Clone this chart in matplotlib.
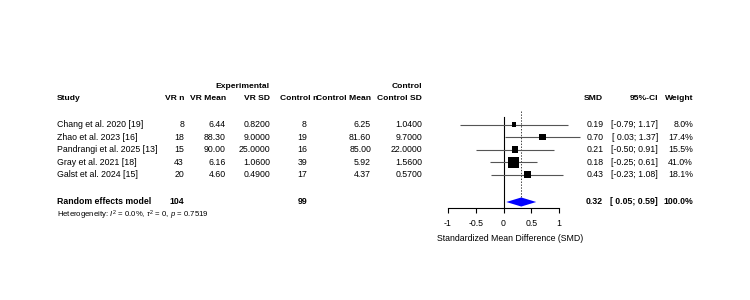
import numpy as np
import matplotlib.pyplot as plt

plt.rcParams['font.family'] = ['Liberation Sans', 'DejaVu Sans']
plt.rcParams['mathtext.fontset'] = 'custom'
plt.rcParams['mathtext.rm'] = 'Liberation Sans'
plt.rcParams['mathtext.it'] = 'Liberation Sans:italic'

studies = ['Chang et al. 2020 [19]', 'Zhao et al. 2023 [16]', 'Pandrangi et al. 2025 [13]',
           'Gray et al. 2021 [18]', 'Galst et al. 2024 [15]']
vr_n = ['8', '18', '15', '43', '20']
vr_mean = ['6.44', '88.30', '90.00', '6.16', '4.60']
vr_sd = ['0.8200', '9.0000', '25.0000', '1.0600', '0.4900']
ctl_n = ['8', '19', '16', '39', '17']
ctl_mean = ['6.25', '81.60', '85.00', '5.92', '4.37']
ctl_sd = ['1.0400', '9.7000', '22.0000', '1.5600', '0.5700']
smd = [0.19, 0.70, 0.21, 0.18, 0.43]
ci_lo = [-0.79, 0.03, -0.50, -0.25, -0.23]
ci_hi = [1.17, 1.37, 0.91, 0.61, 1.08]
weight = [8.0, 17.4, 15.5, 41.0, 18.1]
pooled = 0.32
pooled_lo, pooled_hi = 0.05, 0.59
total_vr, total_ctl = 104, 99
xticks = [-1, -0.5, 0, 0.5, 1]
xtick_labels = ['-1', '-0.5', '0', '0.5', '1']

W, H = 750, 300
fig = plt.figure(figsize=(7.5, 3), dpi=100)

# text layer in pixel coordinates
tx = fig.add_axes([0, 0, 1, 1])
tx.set_xlim(0, W)
tx.set_ylim(H, 0)
tx.axis('off')

fs = 6.3
hfs = 6.1
row_y = [124.5, 137.1, 149.7, 162.3, 174.9]
sum_y = 202
head_y = 99

def t(x, y, s, ha='right', bold=False, size=fs):
    tx.text(x, y, s, ha=ha, va='center', fontsize=size,
            fontweight='bold' if bold else 'normal')

t(270, 86, 'Experimental', bold=True, size=hfs)
t(422, 86, 'Control', bold=True, size=hfs)
t(57, head_y, 'Study', ha='left', bold=True, size=hfs)
for x, s in [(184, 'VR n'), (226, 'VR Mean'), (270, 'VR SD'), (318, 'Control n'),
             (371, 'Control Mean'), (422, 'Control SD'), (603, 'SMD'),
             (658, '95%-CI'), (693, 'Weight')]:
    t(x, head_y, s, bold=True, size=hfs)

for i, y in enumerate(row_y):
    t(57, y, studies[i], ha='left')
    t(184, y, vr_n[i])
    t(226, y, vr_mean[i])
    t(270, y, vr_sd[i])
    t(307, y, ctl_n[i])
    t(371, y, ctl_mean[i])
    t(422, y, ctl_sd[i])
    t(604, y, f'{smd[i]:.2f}')
    t(658, y, f'[{ci_lo[i]:5.2f}; {ci_hi[i]:.2f}]')
    t(693, y, f'{weight[i]:.1f}%')

t(57, sum_y, 'Random effects model', ha='left', bold=True)
t(184, sum_y, str(total_vr), bold=True)
t(307, sum_y, str(total_ctl), bold=True)
t(603, sum_y, f'{pooled:.2f}', bold=True)
t(658, sum_y, f'[{pooled_lo:5.2f}; {pooled_hi:.2f}]', bold=True)
t(693, sum_y, f'{sum(weight):.1f}%', bold=True)
t(57, 215, r'Heterogeneity: $I^2$ = 0.0%, $\tau^2$ = 0, $p$ = 0.7519', ha='left', size=5.6)

# forest panel
px0, px1 = 420, 600
py0, py1 = 105, 208
unit = 55.5
zero_px = 503.5
rowh = 12.6
ax = fig.add_axes([px0 / W, 1 - py1 / H, (px1 - px0) / W, (py1 - py0) / H])
ax.set_xlim((px0 - zero_px) / unit, (px1 - zero_px) / unit)
ax.set_ylim((py1 - row_y[0]) / rowh, (py0 - row_y[0]) / rowh)
ax.patch.set_visible(False)
for s in ['top', 'right', 'left']:
    ax.spines[s].set_visible(False)
ax.spines['bottom'].set_bounds(-1, 1)
ax.spines['bottom'].set_linewidth(0.8)
ax.set_yticks([])
ax.set_xticks(xticks)
ax.set_xticklabels(xtick_labels, fontsize=fs)
ax.tick_params(axis='x', direction='out', length=3.5, width=0.8, pad=4.5)
ax.set_xlabel('Standardized Mean Difference (SMD)', fontsize=fs, labelpad=4)

rows = np.arange(len(smd))
sum_row = (sum_y - row_y[0]) / rowh
ax.plot([0, 0], [-0.6, sum_row + 0.5], color='black', lw=0.8, zorder=1)
ax.plot([pooled, pooled], [-1.1, sum_row - 0.35], color='#444444', lw=0.7,
        linestyle=(0, (1.5, 1.5)), zorder=1)
ax.hlines(rows, ci_lo, ci_hi, color='#555555', lw=0.8, zorder=2)
sizes = (np.sqrt(np.array(weight) / max(weight)) * 10 * 0.75) ** 2
ax.scatter(smd, rows, s=sizes, marker='s', color='black', zorder=3, linewidths=0)
ax.fill([pooled_lo, pooled, pooled_hi, pooled],
        [sum_row, sum_row - 0.36, sum_row, sum_row + 0.36],
        color='#0000FF', zorder=3, lw=0)

fig.savefig('out.png', dpi=100)
